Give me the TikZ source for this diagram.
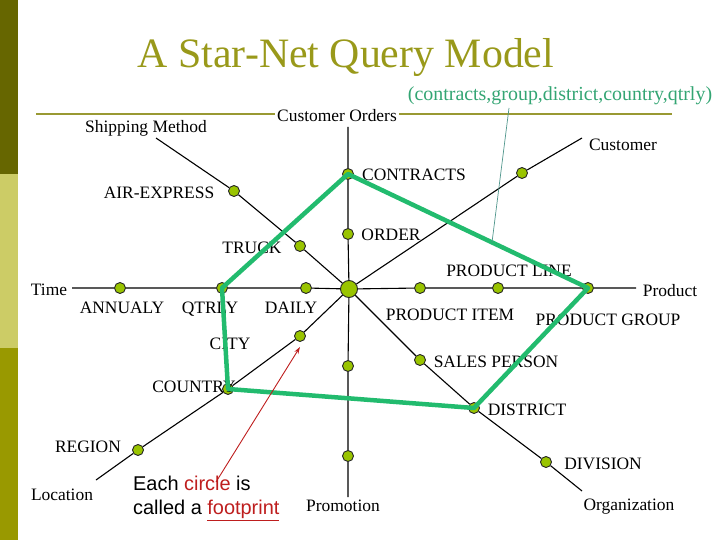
\documentclass[tikz,border=0pt]{standalone}
\usepackage{fontspec}
\setmainfont{Liberation Serif}
\newfontfamily\notefont{Liberation Sans}
\usepackage{xcolor}
\definecolor{sndark}{RGB}{102,102,0}
\definecolor{snlight}{RGB}{204,204,102}
\definecolor{snbar}{RGB}{153,153,0}
\definecolor{snolive}{RGB}{153,153,26}
\definecolor{snrule}{RGB}{153,153,51}
\definecolor{sndot}{RGB}{153,196,0}
\definecolor{snpath}{RGB}{34,187,110}
\definecolor{sntext}{RGB}{51,165,115}
\definecolor{snpointer}{RGB}{80,150,140}
\definecolor{snred}{RGB}{190,30,30}
\usepackage{tikz}
\usetikzlibrary{arrows.meta, calc}

\tikzset{
  dot/.style={circle, fill=sndot, draw=black!85, line width=0.9bp, inner sep=0pt, minimum size=11bp},
  hub/.style={dot, minimum size=17bp},
  lbl/.style={font=\fontsize{17.5}{20}\selectfont, inner sep=0pt, anchor=base},
  axis/.style={line width=1.1bp, black},
}

\begin{document}
\begin{tikzpicture}[x=1bp, y=-1bp]
  \useasboundingbox (0,0) rectangle (720,540);

  % side bar
  \fill[sndark] (0,0) rectangle (18,174);
  \fill[snlight] (0,174) rectangle (18,348);
  \fill[snbar] (0,348) rectangle (18,540);

  % title and rule
  \node[font=\fontsize{42}{48}\selectfont, snolive, inner sep=0pt, anchor=base] (title) at (346,68)
       {A Star-Net Query Model};
  \node[font=\fontsize{20}{24}\selectfont, sntext, inner sep=0pt, anchor=base] (fptext) at (560,101)
       {(contracts,group,district,country,qtrly)};
  \draw[snrule, line width=2.5bp] (36,114) -- (672,114);

  % footprints
  \node[hub] (hub) at (349,289) {};
  \node[dot] (airexp) at (234,191) {};
  \node[dot] (truck) at (300,246) {};
  \node[dot] (contracts) at (348,174) {};
  \node[dot] (order) at (348,234) {};
  \node[dot] (cust) at (522,173) {};
  \node[dot] (annualy) at (120,288) {};
  \node[dot] (qtrly) at (222,288) {};
  \node[dot] (daily) at (306,288) {};
  \node[dot] (pitem) at (420,288) {};
  \node[dot] (pline) at (498,288) {};
  \node[dot] (pgroup) at (588,288) {};
  \node[dot] (city) at (300,336) {};
  \node[dot] (country) at (228,389) {};
  \node[dot] (region) at (138,450) {};
  \node[dot] (sales) at (420,360) {};
  \node[dot] (district) at (474,408) {};
  \node[dot] (division) at (546,462) {};
  \node[dot] (promoa) at (348,366) {};
  \node[dot] (promob) at (348,456) {};

  % loose ends of the dimensions
  \coordinate (shipend) at (156,138);
  \coordinate (orderend) at (348,127);
  \coordinate (custend) at (582,138);
  \coordinate (timeend) at (72,288);
  \coordinate (prodend) at (636,288);
  \coordinate (locend) at (96,480);
  \coordinate (orgend) at (582,491);
  \coordinate (promoend) at (348,497);

  % dimensions
  \draw[axis] (shipend) -- (airexp) -- (truck) -- (hub);
  \draw[axis] (orderend) -- (contracts) -- (order) -- (hub);
  \draw[axis] (custend) -- (cust) -- (hub);
  \draw[axis] (timeend) -- (annualy) -- (qtrly) -- (daily) -- (hub);
  \draw[axis] (hub) -- (pitem) -- (pline) -- (pgroup) -- (prodend);
  \draw[axis] (hub) -- (city) -- (country) -- (region) -- (locend);
  \draw[axis] (hub) -- (sales) -- (district) -- (division) -- (orgend);
  \draw[axis] (hub) -- (promoa) -- (promob) -- (promoend);

  % dimension names
  \node[lbl, fill=white, inner xsep=2bp] (custorders) at (337,122) {Customer Orders};
  \node[lbl] (shipping) at (146,133) {Shipping Method};
  \node[lbl] (customer) at (623,151) {Customer};
  \node[lbl] (time) at (49,295) {Time};
  \node[lbl] (product) at (670,296) {Product};
  \node[lbl] (location) at (62,500) {Location};
  \node[lbl] (organization) at (629,510) {Organization};
  \node[lbl] (promotion) at (343,511) {Promotion};

  % level names
  \node[lbl] (airexplbl) at (159,199) {AIR-EXPRESS};
  \node[lbl] (trucklbl) at (252,254) {TRUCK};
  \node[lbl] (contractslbl) at (414,181) {CONTRACTS};
  \node[lbl] (orderlbl) at (391,241) {ORDER};
  \node[lbl] (plinelbl) at (509,277) {PRODUCT LINE};
  \node[lbl] (annualylbl) at (122,313) {ANNUALY};
  \node[lbl] (qtrlylbl) at (210,313) {QTRLY};
  \node[lbl] (dailylbl) at (291,313) {DAILY};
  \node[lbl] (pitemlbl) at (450,320) {PRODUCT ITEM};
  \node[lbl] (pgrouplbl) at (608,325) {PRODUCT GROUP};
  \node[lbl] (citylbl) at (230,349) {CITY};
  \node[lbl] (countrylbl) at (194,392) {COUNTRY};
  \node[lbl] (saleslbl) at (496,367) {SALES PERSON};
  \node[lbl] (districtlbl) at (527,415) {DISTRICT};
  \node[lbl] (regionlbl) at (88,452) {REGION};
  \node[lbl] (divisionlbl) at (603,469) {DIVISION};

  % the query footprint
  \draw[snpath, line width=4.5bp, line join=round]
       (contracts.center) -- (pgroup.center) -- (district.center)
       -- (country.center) -- (qtrly.center) -- cycle;
  \coordinate (fpnote) at (509,108);
  \draw[snpointer, line width=0.7bp] (fpnote) -- ($(contracts)!0.6!(pgroup)$);

  % note
  \node[font=\notefont\fontsize{20}{24}\selectfont, align=left, inner sep=0pt, anchor=north west]
       (note) at (133,476)
       {Each \textcolor{snred}{circle} is\\called a \textcolor{snred}{\underline{footprint}}};
  \coordinate (circleword) at (216,482);
  \draw[snred, line width=0.9bp, -{Stealth[length=7bp,width=4.5bp]}]
       (circleword) -- ([yshift=-5bp]city.south);
\end{tikzpicture}
\end{document}
